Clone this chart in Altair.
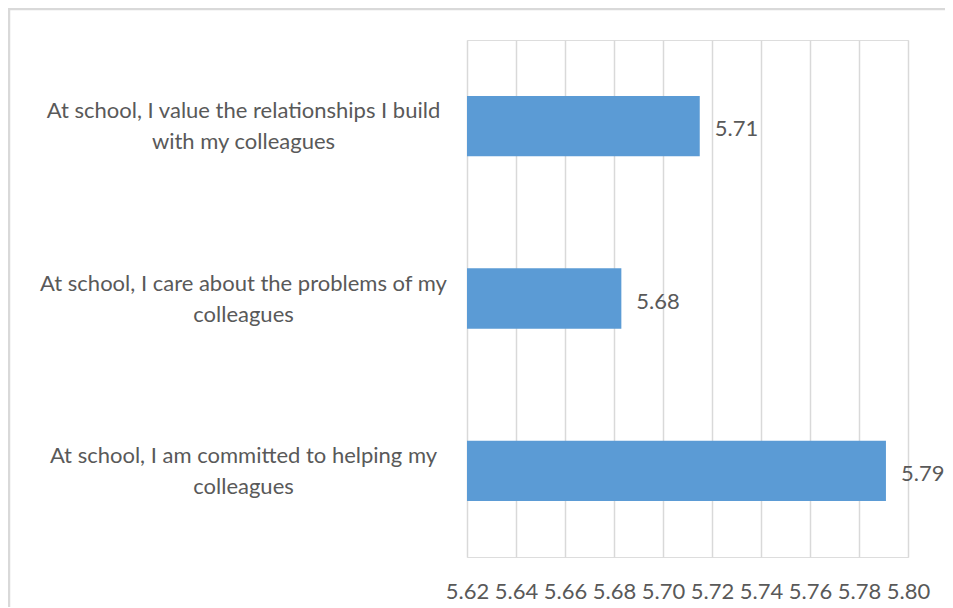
import altair as alt
import pandas as pd

categories = [
    "At school, I value the relationships I build|with my colleagues",
    "At school, I care about the problems of my|colleagues",
    "At school, I am committed to helping my|colleagues",
]
values = [5.715, 5.683, 5.791]
x_ticks = [5.62, 5.64, 5.66, 5.68, 5.70, 5.72, 5.74, 5.76, 5.78, 5.80]

FONT = "Lato"
TEXT = "#595959"
GRID = "#d9d9d9"
FS = 22

df = pd.DataFrame({"cat": categories, "val": values})

x_scale = alt.Scale(domain=[5.62, 5.80], zero=False, nice=False)
y_scale = alt.Scale(domain=categories, paddingInner=0.65, paddingOuter=0.325)

base = alt.Chart(df)

bars = base.mark_bar(color="#5B9BD5").encode(
    x=alt.X("val:Q", scale=x_scale,
            axis=alt.Axis(values=x_ticks, format=".2f", title=None, grid=True,
                          gridColor=GRID, gridWidth=1.5, domain=False, ticks=False,
                          labelFontSize=FS, labelColor=TEXT, labelFont=FONT,
                          labelPadding=24, labelFlush=False, labelOverlap=False)),
    x2=alt.datum(5.62),
    y=alt.Y("cat:N", scale=y_scale, sort=None,
            axis=alt.Axis(title=None, domain=False, ticks=False, grid=False,
                          labelAlign="center", labelPadding=224, labelLimit=0,
                          labelExpr="split(datum.label, '|')", labelLineHeight=31,
                          labelOffset=-15,
                          labelFontSize=FS, labelColor=TEXT, labelFont=FONT,
                          labelBaseline="middle")),
)

text = base.mark_text(align="left", baseline="middle", dx=15, dy=3, fontSize=FS,
                      color=TEXT, font=FONT).encode(
    x=alt.X("val:Q", scale=x_scale),
    y=alt.Y("cat:N", scale=y_scale, sort=None),
    text=alt.Text("val:Q", format=".2f"),
)

frame_data = alt.Data(values=[{"k": 1}])
top_line = alt.Chart(frame_data).mark_rule(color=GRID, strokeWidth=2.5).encode(
    x=alt.value(-459), x2=alt.value(520), y=alt.value(-31))
left_line = alt.Chart(frame_data).mark_rule(color=GRID, strokeWidth=2.5).encode(
    x=alt.value(-458), y=alt.value(-32), y2=alt.value(580))

chart = alt.layer(bars, text, top_line, left_line).properties(
    width=441, height=517,
    padding={"left": 459, "top": 32, "right": 37, "bottom": 50},
    autosize=alt.AutoSizeParams(type="none"),
).configure_view(stroke=None).configure(font=FONT)

chart.save("out.html", embed_options={"renderer": "svg", "actions": False})
